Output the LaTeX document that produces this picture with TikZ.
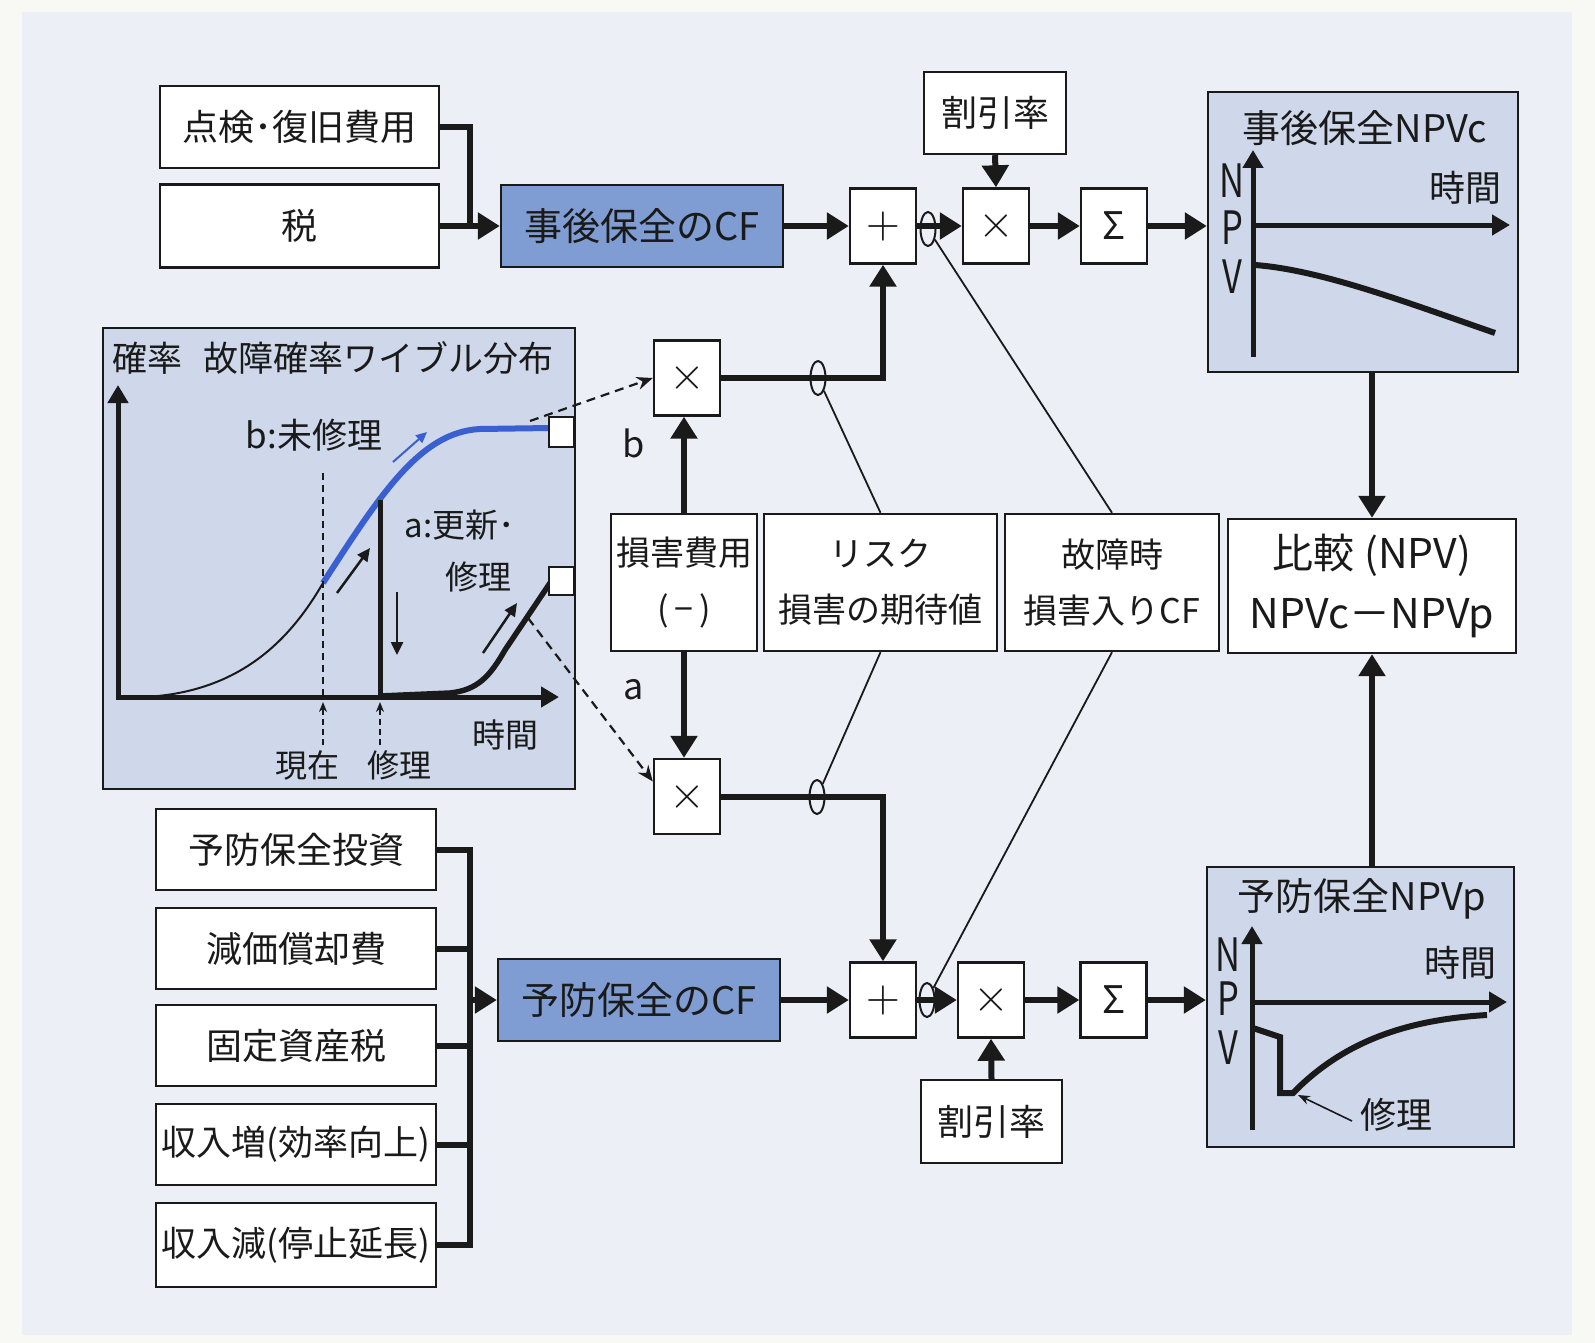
\documentclass[tikz,border=0pt]{standalone}
\usepackage[no-math]{fontspec}
\setmainfont{Noto Sans CJK JP}
\newfontfamily\cond{Noto Sans CJK JP}[FakeStretch=0.75]
\usetikzlibrary{arrows.meta,shapes.geometric,calc}
\definecolor{bgout}{HTML}{F8F8F5}
\definecolor{bgin}{HTML}{ECEFF5}
\definecolor{panelc}{HTML}{CFD8EA}
\definecolor{cfblue}{HTML}{7F9DD3}
\definecolor{ink}{HTML}{1A1A1A}
\definecolor{curveblue}{HTML}{3A5FD0}
\newcommand\fs[2]{\fontsize{#1pt}{#2pt}\selectfont}
\newcommand\opplus{\scalebox{4.4}{$+$}}
\newcommand\optimes{\scalebox{4.6}{$\times$}}
\tikzset{
  box/.style={draw=ink, line width=2.4pt, fill=white, inner sep=0pt, align=center, text=ink},
  cfbox/.style={box, fill=cfblue},
  opbox/.style={box, minimum width=66pt, minimum height=75pt},
  panelbox/.style={draw=ink, line width=2.4pt, fill=panelc, inner sep=0pt},
  lbl/.style={inner sep=0pt, text=ink, align=center},
  thk/.style={draw=ink, line width=6pt},
  arr/.style={thk, -{Triangle[length=22pt,width=26pt]}},
  thinln/.style={draw=ink, line width=1.8pt},
  dasharr/.style={draw=ink, line width=2.2pt, dash pattern=on 9pt off 6pt, -{Stealth[length=16pt,width=13pt]}},
  tap/.style={draw=ink, line width=2pt, ellipse, minimum width=15pt, minimum height=34pt, inner sep=0pt},
  axis2/.style={draw=ink, line width=5pt, {Triangle[length=18pt,width=20pt]}-{Triangle[length=18pt,width=20pt]}},
  axis1/.style={draw=ink, line width=5pt, -{Triangle[length=18pt,width=20pt]}},
  smallarr/.style={draw=ink, line width=2.5pt, -{Triangle[length=13pt,width=12pt]}},
}
\begin{document}
\begin{tikzpicture}[x=1pt,y=-1pt]
\useasboundingbox (0,0) rectangle (1595,1343);
\fill[bgout] (0,0) rectangle (1595,1343);
\fill[bgin] (22,12) rectangle (1572,1335);

% ---------- panels ----------
\node[panelbox, minimum width=472pt, minimum height=461pt] (prob) at (339,558.5) {};
\node[panelbox, minimum width=310pt, minimum height=280pt] (npvc) at (1363,232) {};
\node[panelbox, minimum width=307pt, minimum height=280pt] (npvp) at (1360.5,1007) {};

% ---------- top row ----------
\node[box, minimum width=279pt, minimum height=82pt, font=\fs{36}{40}] (tenken) at (299.5,127) {点検･復旧費用};
\node[box, minimum width=279pt, minimum height=83pt, font=\fs{36}{40}] (zei) at (299.5,226) {税};
\node[cfbox, minimum width=282pt, minimum height=82pt, font=\fs{38}{42}] (jcf) at (642,226) {事後保全のCF};
\node[opbox] (plus1) at (883,226) {\opplus};
\node[opbox] (times1) at (996,226) {\optimes};
\node[box, minimum width=142pt, minimum height=82pt, font=\fs{36}{40}] (wari1) at (995,113) {割引率};
\node[opbox, font=\fs{38}{40}] (sig1) at (1114,226) {Σ};
\node[tap] (e1) at (928,229) {};

% ---------- middle ----------
\node[opbox] (timesB) at (687,378) {\optimes};
\node[tap] (eB) at (818,378) {};
\node[box, minimum width=146pt, minimum height=137pt, font=\fs{34}{56}] (songai) at (684,582.5) {損害費用\\(\,−\,)};
\node[box, minimum width=233pt, minimum height=137pt, font=\fs{34}{56}] (risk) at (880.5,582.5) {リスク\\損害の期待値};
\node[box, minimum width=214pt, minimum height=137pt, font=\fs{34}{56}] (kosho) at (1112,582.5) {故障時\\損害入りCF};
\node[box, minimum width=288pt, minimum height=134pt, font=\fs{41}{60}] (hikaku) at (1372,586) {比較 (NPV)\\NPVc－NPVp};
\node[opbox] (timesA) at (687,796.5) {\optimes};
\node[tap] (eA) at (817,797) {};
\node[lbl, font=\fs{36}{40}] (lb) at (634,443) {b};
\node[lbl, font=\fs{36}{40}] (la) at (634,690) {a};

% ---------- bottom row ----------
\node[box, minimum width=280pt, minimum height=81pt, font=\fs{36}{40}] (yobo) at (296,849.5) {予防保全投資};
\node[box, minimum width=280pt, minimum height=81pt, font=\fs{36}{40}] (genka) at (296,948.5) {減価償却費};
\node[box, minimum width=280pt, minimum height=81pt, font=\fs{36}{40}] (kotei) at (296,1045.5) {固定資産税};
\node[box, minimum width=280pt, minimum height=81pt, font=\fs{35}{40}] (zo) at (296,1144.5) {収入増(効率向上)};
\node[box, minimum width=280pt, minimum height=84pt, font=\fs{35}{40}] (gen) at (296,1245) {収入減(停止延長)};
\node[cfbox, minimum width=282pt, minimum height=82pt, font=\fs{38}{42}] (cf2) at (639,1000) {予防保全のCF};
\node[opbox] (plus2) at (883,1000) {\opplus};
\node[opbox] (times2) at (991,1000) {\optimes};
\node[box, minimum width=141pt, minimum height=83pt, font=\fs{36}{40}] (wari2) at (991.5,1121.5) {割引率};
\node[opbox, font=\fs{38}{40}] (sig2) at (1113.5,1000) {Σ};
\node[tap] (e2) at (927,1000) {};

% ---------- connectors ----------
\coordinate (jx) at (470,226);
\draw[thk] (tenken.east) -| (jx);
\draw[arr] (zei.east) -- (jcf.west);
\draw[arr] (jcf.east) -- (plus1.west);
\draw[arr] (plus1.east) -- (times1.west);
\draw[arr] (wari1.south) -- (times1.north);
\draw[arr] (times1.east) -- (sig1.west);
\draw[arr] (sig1.east) -- (sig1.east -| npvc.west);
\draw[arr] (timesB.east) -| (plus1.south);
\draw[arr] (songai.north) -- (songai.north |- timesB.south);
\draw[arr] (songai.south) -- (songai.south |- timesA.north);
\draw[arr] (timesA.east) -| (plus2.north);
\draw[arr] (npvc.south -| hikaku.north) -- (hikaku.north);
\draw[arr] (npvp.north -| hikaku.south) -- (hikaku.south);

\coordinate (busx) at (470,1000);
\draw[thk] (yobo.east) -- (yobo.east -| busx) -- (gen.east -| busx) -- (gen.east);
\draw[thk] (genka.east) -- (genka.east -| busx);
\draw[thk] (kotei.east) -- (kotei.east -| busx);
\draw[thk] (zo.east) -- (zo.east -| busx);
\draw[arr] (busx) -- (cf2.west);
\draw[arr] (cf2.east) -- (plus2.west);
\draw[arr] (plus2.east) -- (times2.west);
\draw[arr] (wari2.north) -- (times2.south);
\draw[arr] (times2.east) -- (sig2.west);
\draw[arr] (sig2.east) -- (sig2.east -| npvp.west);

\draw[thinln] (kosho.north) -- (e1);
\draw[thinln] (risk.north) -- (eB);
\draw[thinln] (risk.south) -- (eA);
\draw[thinln] (kosho.south) -- (e2);

% ---------- probability panel ----------
\node[lbl, anchor=west, font=\fs{35}{40}] (probt) at (112,358) {確率\hspace{0.6em}故障確率ワイブル分布};
\draw[axis2] (118,385) -- (118,697) -- (559,697);
\draw[ink, line width=2pt] (145,697) .. controls (240,692) and (290,640) .. (323,583);
\draw[curveblue, line width=6pt] (323,583) .. controls (380,495) and (420,432) .. (480,429) -- (550,428);
\draw[ink, line width=5pt] (380,697) -- (380,500);
\draw[ink, line width=5.5pt] (380,696) -- (450,693) .. controls (478,690) and (490,676) .. (505,650) -- (550,583);
\draw[ink, line width=1.5pt, dash pattern=on 7pt off 5pt] (323,473) -- (323,697);
\draw[ink, line width=1.5pt, dash pattern=on 6pt off 4pt, -{Stealth[length=10pt,width=8pt]}] (323,745) -- (323,702);
\draw[ink, line width=1.5pt, dash pattern=on 6pt off 4pt, -{Stealth[length=10pt,width=8pt]}] (380,745) -- (380,702);
\draw[smallarr] (337,593) -- (370,548);
\draw[curveblue, line width=2pt, -{Triangle[length=11pt,width=10pt]}] (393,462) -- (427,432);
\draw[smallarr] (397,592) -- (397,655);
\draw[smallarr] (483,653) -- (517,603);
\node[lbl, font=\fs{35}{40}] (tb) at (314,435) {b:未修理};
\node[lbl, font=\fs{33}{40}] (ta1) at (460,525) {a:更新･};
\node[lbl, font=\fs{33}{40}] (ta2) at (478,577) {修理};
\node[lbl, font=\fs{32}{40}] (tnow) at (307,765) {現在};
\node[lbl, font=\fs{32}{40}] (trep) at (399,765) {修理};
\node[lbl, font=\fs{33}{40}] (ttime) at (505,735) {時間};
\coordinate (db) at (530,421);
\coordinate (da) at (528,618);
\draw[dasharr] (db) -- (timesB.west);
\draw[dasharr] (da) -- ([yshift=15pt]timesA.west);
\node[box, line width=2pt, minimum width=25pt, minimum height=30pt] (sqB) at (561,432) {};
\node[box, line width=2pt, minimum width=25pt, minimum height=28pt] (sqA) at (561,581) {};

% ---------- NPVc panel ----------
\node[lbl, font=\fs{38}{40}] (npvct) at (1365,128) {事後保全NPVc};
\draw[axis1] (1253,357) -- (1253,150);
\draw[axis1] (1253,225) -- (1510,225);
\node[lbl, font=\cond\fs{46}{46}] (cN) at (1232,181) {N};
\node[lbl, font=\cond\fs{46}{46}] (cP) at (1232,228) {P};
\node[lbl, font=\cond\fs{46}{46}] (cV) at (1232,277) {V};
\node[lbl, font=\fs{36}{40}] (ctime) at (1465,188) {時間};
\draw[ink, line width=6pt] (1255,265) .. controls (1320,270) and (1400,300) .. (1495,333);

% ---------- NPVp panel ----------
\node[lbl, font=\fs{38}{40}] (npvpt) at (1362,899) {予防保全NPVp};
\draw[axis1] (1252,1130) -- (1252,926);
\draw[axis1] (1252,1002) -- (1507,1002);
\node[lbl, font=\cond\fs{46}{46}] (pN) at (1228,955) {N};
\node[lbl, font=\cond\fs{46}{46}] (pP) at (1228,999) {P};
\node[lbl, font=\cond\fs{46}{46}] (pV) at (1228,1048) {V};
\node[lbl, font=\fs{36}{40}] (ptime) at (1460,963) {時間};
\draw[ink, line width=6pt, line join=miter] (1253,1028) -- (1280,1037) -- (1280,1093) -- (1293,1093) .. controls (1340,1045) and (1400,1020) .. (1487,1015);
\node[lbl, font=\fs{36}{40}] (prep) at (1396,1115) {修理};
\draw[ink, line width=1.6pt, -{Stealth[length=12pt,width=9pt]}] (1352,1121) -- (1298,1095);
\end{tikzpicture}
\end{document}
